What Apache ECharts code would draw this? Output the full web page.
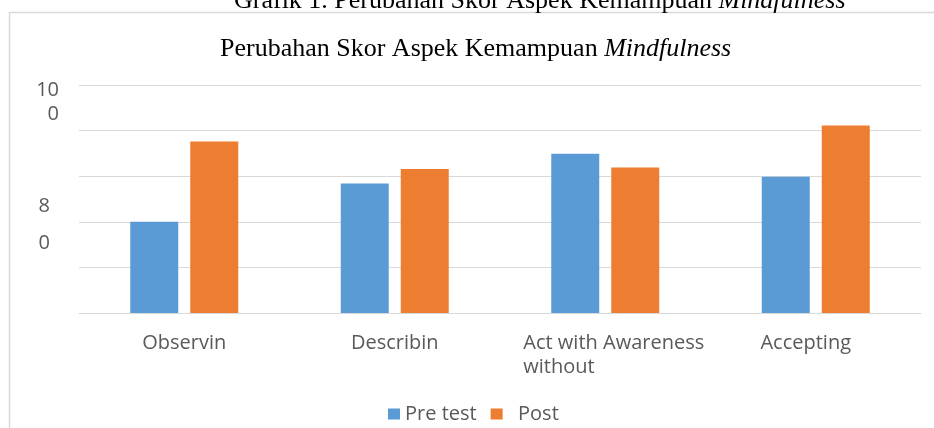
<!DOCTYPE html>
<html>
<head>
<meta charset="utf-8">
<script src="https://cdn.jsdelivr.net/npm/echarts@6/dist/echarts.min.js"></script>
<style>
  html, body { margin: 0; padding: 0; background: #fff; }
  #chart { width: 934px; height: 428px; }
</style>
</head>
<body>
<div id="chart"></div>
<script>
// data
var categories = ["Observin", "Describin", "Act with Awareness\nwithout", "Accepting"];
var preTest = [80, 88.4, 94.9, 89.9];
var post = [97.6, 91.6, 91.9, 101.1];
var seriesNames = ["Pre test", "Post"];
// y tick labels as they are printed (wrapped)
var yTickValues = [100, 80];
var yTickLabels = ["10\n0", "8\n0"];

var serif = "'Liberation Serif', 'Times New Roman', serif";
var sans = "'Open Sans', 'Noto Sans', sans-serif";
var titleRich = {
  n: { fontFamily: serif, fontSize: 26, fontWeight: "normal", color: "#000", lineHeight: 30 },
  i: { fontFamily: serif, fontSize: 26, fontWeight: "normal", color: "#000", lineHeight: 30, fontStyle: "italic" }
};

var chart = echarts.init(document.getElementById("chart"));

var option = {
  animation: false,
  backgroundColor: "#fff",
  title: [
    {
      text: "{n|Grafik 1. Perubahan Skor Aspek Kemampuan }{i|Mindfulness}",
      left: 234,
      top: -14,
      padding: 0,
      textStyle: { fontWeight: "normal", rich: titleRich }
    },
    {
      text: "{n|Perubahan Skor Aspek Kemampuan }{i|Mindfulness}",
      left: 220,
      top: 34,
      padding: 0,
      textStyle: { fontWeight: "normal", rich: titleRich }
    }
  ],
  graphic: [
    {
      // chart frame
      type: "rect",
      shape: { x: 9.5, y: 12.5, width: 1000, height: 1000 },
      style: { fill: null, stroke: "#d9d9d9", lineWidth: 1.5 },
      silent: true
    }
  ],
  legend: {
    data: seriesNames,
    left: 383,
    top: 397,
    itemWidth: 12,
    itemHeight: 11,
    itemGap: 14,
    icon: "rect",
    formatter: function (name) {
      return name === "Post" ? "  " + name : name;
    },
    textStyle: { fontFamily: sans, fontSize: 20, color: "#595959", lineHeight: 24 }
  },
  grid: { left: 79, right: 13, top: 85, bottom: 115 },
  xAxis: {
    type: "category",
    data: categories,
    axisLine: { lineStyle: { color: "#d9d9d9", width: 1 } },
    axisTick: { show: false },
    axisLabel: {
      interval: 0,
      margin: 18,
      color: "#595959",
      fontFamily: sans,
      fontSize: 20,
      lineHeight: 24,
      formatter: function (value, idx) {
        if (idx === 2) {
          var parts = value.split("\n");
          return "{a|" + parts[0] + "}\n{l|" + parts[1] + "}";
        }
        if (idx === 3) return "{r|" + value + "}";
        return value;
      },
      rich: {
        a: { fontFamily: sans, fontSize: 20, color: "#595959", lineHeight: 24, align: "left", padding: [0, 0, 0, 17] },
        l: { fontFamily: sans, fontSize: 20, color: "#595959", lineHeight: 24, align: "left", padding: [0, 0, 0, 17] },
        r: { fontFamily: sans, fontSize: 20, color: "#595959", lineHeight: 24, padding: [0, 20, 0, 0] }
      }
    }
  },
  yAxis: {
    type: "value",
    min: 60,
    max: 110,
    interval: 10,
    axisLine: { show: false },
    axisTick: { show: false },
    splitLine: { lineStyle: { color: "#d9d9d9", width: 1 } },
    axisLabel: {
      margin: 20,
      color: "#595959",
      fontFamily: sans,
      fontSize: 20,
      formatter: function (value) {
        var k = yTickValues.indexOf(value);
        if (k < 0) return "";
        var lines = yTickLabels[k].split("\n");
        if (value === 100) {
          return "{t|" + lines[0] + "}\n{t|" + lines[1] + "}\n{s| }";
        }
        return "{s2| }\n{k|" + lines[0] + "}\n{k|" + lines[1] + "}";
      },
      rich: {
        t: { fontFamily: sans, fontSize: 20, color: "#595959", lineHeight: 24 },
        s: { fontSize: 10, lineHeight: 57 },
        s2: { fontSize: 6, lineHeight: 6 },
        k: { fontFamily: sans, fontSize: 20, color: "#595959", lineHeight: 37, padding: [0, 9, 0, 0] }
      }
    }
  },
  series: [
    {
      name: seriesNames[0],
      type: "bar",
      data: preTest,
      barWidth: 48,
      barGap: "25%",
      itemStyle: { color: "#5b9bd5" }
    },
    {
      name: seriesNames[1],
      type: "bar",
      data: post,
      barWidth: 48,
      barGap: "25%",
      itemStyle: { color: "#ed7d31" }
    }
  ]
};

chart.setOption(option);
</script>
</body>
</html>
